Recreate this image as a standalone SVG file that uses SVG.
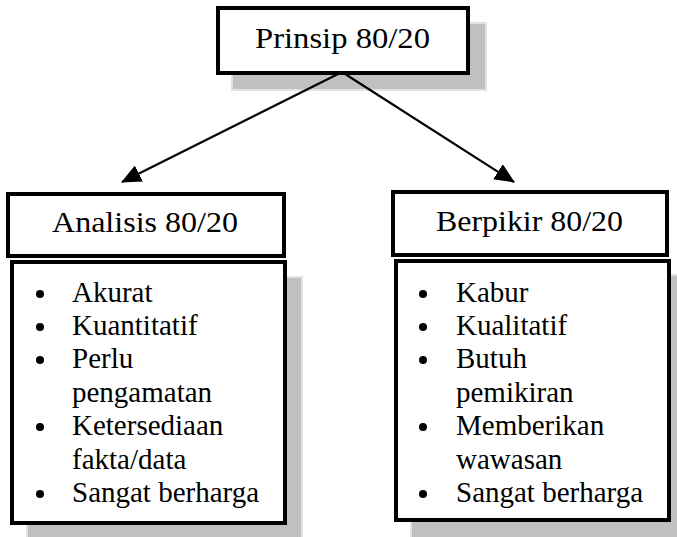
<svg xmlns="http://www.w3.org/2000/svg" width="677" height="537" viewBox="0 0 677 537">
<style>
.shadow{fill:#c0c0c0;stroke:#e2e2e2;stroke-width:2}
.box{fill:#fff;stroke:#000;stroke-width:4}
.t{font-family:"Liberation Serif","Times New Roman",serif;font-size:29px;fill:#000}
.h{font-family:"Liberation Serif","Times New Roman",serif;font-size:29px;fill:#000}
.b{fill:#000}
.conn{stroke:#000;stroke-width:2.2;fill:none}
</style>
<defs>
<marker id="arr" markerUnits="userSpaceOnUse" markerWidth="20" markerHeight="18" viewBox="0 0 20 18" refX="19" refY="9" orient="auto">
<path d="M0,0 L20,9 L0,18 Z" fill="#000"/>
</marker>
</defs>
<g id="prinsip">
<rect class="shadow" x="232" y="23" width="254" height="67"/>
<rect class="box" x="218" y="8" width="250" height="65"/>
<text class="h" x="255" y="48" textLength="175" lengthAdjust="spacingAndGlyphs">Prinsip 80/20</text>
</g>
<g id="connectors">
<line class="conn" x1="342" y1="72" x2="122" y2="182" marker-end="url(#arr)"/>
<line class="conn" x1="342" y1="72" x2="514" y2="182" marker-end="url(#arr)"/>
</g>
<g id="analisis">
<rect class="box" x="8" y="194" width="276" height="62"/>
<text class="h" x="52" y="232" textLength="186" lengthAdjust="spacingAndGlyphs">Analisis 80/20</text>
</g>
<g id="analisis-list">
<rect class="shadow" x="27" y="277" width="275" height="270"/>
<rect class="box" x="12" y="262" width="273" height="261"/>
<circle class="b" cx="40" cy="294" r="4"/>
<circle class="b" cx="40" cy="327" r="4"/>
<circle class="b" cx="40" cy="360" r="4"/>
<circle class="b" cx="40" cy="427" r="4"/>
<circle class="b" cx="40" cy="494" r="4"/>
<text class="t" x="72" y="302">Akurat</text>
<text class="t" x="72" y="335">Kuantitatif</text>
<text class="t" x="72" y="368">Perlu</text>
<text class="t" x="72" y="402">pengamatan</text>
<text class="t" x="72" y="435">Ketersediaan</text>
<text class="t" x="72" y="469">fakta/data</text>
<text class="t" x="72" y="502">Sangat berharga</text>
</g>
<g id="berpikir">
<rect class="box" x="393" y="192" width="274" height="63"/>
<text class="h" x="436" y="231" textLength="187" lengthAdjust="spacingAndGlyphs">Berpikir 80/20</text>
</g>
<g id="berpikir-list">
<rect class="shadow" x="411" y="275" width="280" height="272"/>
<rect class="box" x="396" y="261" width="273" height="259"/>
<circle class="b" cx="423" cy="294" r="4"/>
<circle class="b" cx="423" cy="327" r="4"/>
<circle class="b" cx="423" cy="360" r="4"/>
<circle class="b" cx="423" cy="427" r="4"/>
<circle class="b" cx="423" cy="494" r="4"/>
<text class="t" x="456" y="302">Kabur</text>
<text class="t" x="456" y="335">Kualitatif</text>
<text class="t" x="456" y="368">Butuh</text>
<text class="t" x="456" y="402">pemikiran</text>
<text class="t" x="456" y="435">Memberikan</text>
<text class="t" x="456" y="469">wawasan</text>
<text class="t" x="456" y="502">Sangat berharga</text>
</g>
</svg>
